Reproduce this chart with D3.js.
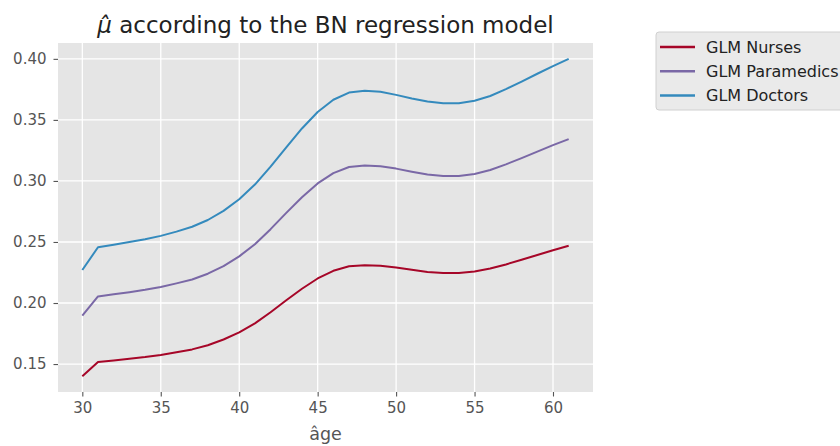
<!DOCTYPE html>
<html>
<head>
<meta charset="utf-8">
<script src="https://cdn.jsdelivr.net/npm/d3@7"></script>
<style>
  body { margin: 0; background: #fff; }
  svg { display: block; font-family: "DejaVu Sans", sans-serif; }
</style>
</head>
<body>
<div id="chart"></div>
<script>
  "use strict";

  // ages on the x axis
  var ages = d3.range(30, 62);

  // fitted mu per profession, one value per age
  var nurses = [0.1401, 0.1517, 0.1530, 0.1543, 0.1557, 0.1574, 0.1596, 0.1620,
    0.1654, 0.1701, 0.1759, 0.1833, 0.1924, 0.2022, 0.2117, 0.2201, 0.2264,
    0.2301, 0.2309, 0.2305, 0.2290, 0.2272, 0.2255, 0.2245, 0.2245, 0.2258,
    0.2282, 0.2316, 0.2354, 0.2393, 0.2432, 0.2469];
  var paramedics = [0.1897, 0.2054, 0.2072, 0.2089, 0.2108, 0.2131, 0.2161, 0.2193,
    0.2240, 0.2303, 0.2382, 0.2482, 0.2605, 0.2738, 0.2866, 0.2980, 0.3064,
    0.3114, 0.3126, 0.3121, 0.3101, 0.3076, 0.3053, 0.3040, 0.3040, 0.3057,
    0.3090, 0.3136, 0.3187, 0.3240, 0.3293, 0.3343];
  var doctors = [0.2270, 0.2457, 0.2478, 0.2500, 0.2523, 0.2550, 0.2585, 0.2625,
    0.2680, 0.2755, 0.2850, 0.2970, 0.3117, 0.3275, 0.3430, 0.3565, 0.3665,
    0.3724, 0.3738, 0.3731, 0.3705, 0.3676, 0.3650, 0.3636, 0.3636, 0.3657,
    0.3696, 0.3752, 0.3814, 0.3878, 0.3941, 0.4000];

  var seriesNames = ["GLM Nurses", "GLM Paramedics", "GLM Doctors"];
  var seriesColors = ["#A60628", "#7A68A6", "#348ABD"];
  var xTicks = [30, 35, 40, 45, 50, 55, 60];
  var yTicks = [0.15, 0.20, 0.25, 0.30, 0.35, 0.40];

  var width = 840, height = 446;
  var margin = {top: 43, left: 58, right: 247, bottom: 54};
  var innerW = width - margin.left - margin.right;
  var innerH = height - margin.top - margin.bottom;

  var series = [nurses, paramedics, doctors].map(function(values, i) {
    return {name: seriesNames[i], color: seriesColors[i],
      points: values.map(function(v, j) { return {age: ages[j], mu: v}; })};
  });

  // matplotlib style 5% padding around the data
  var xPad = (d3.max(ages) - d3.min(ages)) * 0.05;
  var allMu = d3.merge([nurses, paramedics, doctors]);
  var yPad = (d3.max(allMu) - d3.min(allMu)) * 0.05;

  var x = d3.scaleLinear()
      .domain([d3.min(ages) - xPad, d3.max(ages) + xPad])
      .range([0, innerW]);
  var y = d3.scaleLinear()
      .domain([d3.min(allMu) - yPad, d3.max(allMu) + yPad])
      .range([innerH, 0]);

  var svg = d3.select("#chart").append("svg")
      .attr("width", width)
      .attr("height", height);

  var g = svg.append("g")
      .attr("transform", "translate(" + margin.left + "," + margin.top + ")");

  g.append("rect")
      .attr("width", innerW)
      .attr("height", innerH)
      .attr("fill", "#E5E5E5");

  // grid
  g.append("g")
    .selectAll("line")
    .data(xTicks)
    .join("line")
      .attr("x1", d => x(d)).attr("x2", d => x(d))
      .attr("y1", 0).attr("y2", innerH)
      .attr("stroke", "#fff").attr("stroke-width", 1.3);
  g.append("g")
    .selectAll("line")
    .data(yTicks)
    .join("line")
      .attr("x1", 0).attr("x2", innerW)
      .attr("y1", d => y(d)).attr("y2", d => y(d))
      .attr("stroke", "#fff").attr("stroke-width", 1.3);

  // axes
  var xAxis = g.append("g")
      .attr("transform", "translate(0," + innerH + ")")
      .call(d3.axisBottom(x).tickValues(xTicks).tickSize(4.5).tickPadding(6).tickFormat(d3.format("d")));
  var yAxis = g.append("g")
      .call(d3.axisLeft(y).tickValues(yTicks).tickSize(4.5).tickPadding(7).tickFormat(d3.format(".2f")));

  [xAxis, yAxis].forEach(function(ax) {
    ax.select(".domain").remove();
    ax.selectAll(".tick line").attr("stroke", "#555").attr("stroke-width", 1.1);
    ax.selectAll(".tick text")
        .attr("fill", "#555")
        .attr("font-size", "15px")
        .attr("font-family", "DejaVu Sans, sans-serif");
  });

  // lines
  var line = d3.line()
      .x(d => x(d.age))
      .y(d => y(d.mu));

  g.append("g")
    .selectAll("path")
    .data(series)
    .join("path")
      .attr("fill", "none")
      .attr("stroke", d => d.color)
      .attr("stroke-width", 2)
      .attr("stroke-linejoin", "round")
      .attr("d", d => line(d.points));

  // title and axis label
  var title = svg.append("text")
      .attr("x", margin.left + innerW / 2)
      .attr("y", 33)
      .attr("text-anchor", "middle")
      .attr("font-size", "23px")
      .attr("fill", "#222");
  title.append("tspan").attr("font-style", "italic").text("\u03BC\u0302");
  title.append("tspan").text(" according to the BN regression model");

  svg.append("text")
      .attr("x", margin.left + innerW / 2)
      .attr("y", 440)
      .attr("text-anchor", "middle")
      .attr("font-size", "17.5px")
      .attr("fill", "#555")
      .text("\u00E2ge");

  // legend
  var legend = svg.append("g")
      .attr("transform", "translate(656,32)");
  legend.append("rect")
      .attr("width", 200)
      .attr("height", 78)
      .attr("rx", 3)
      .attr("fill", "#EAEAEA")
      .attr("stroke", "#D0D0D0")
      .attr("stroke-width", 1);
  var item = legend.selectAll("g.item")
    .data(series)
    .join("g")
      .attr("class", "item")
      .attr("transform", (d, i) => "translate(0," + (15 + i * 24.2) + ")");
  item.append("line")
      .attr("x1", 4).attr("x2", 39)
      .attr("stroke", d => d.color)
      .attr("stroke-width", 2.5);
  item.append("text")
      .attr("x", 50)
      .attr("dy", "0.36em")
      .attr("font-size", "16px")
      .attr("fill", "#222")
      .text(d => d.name);
</script>
</body>
</html>
